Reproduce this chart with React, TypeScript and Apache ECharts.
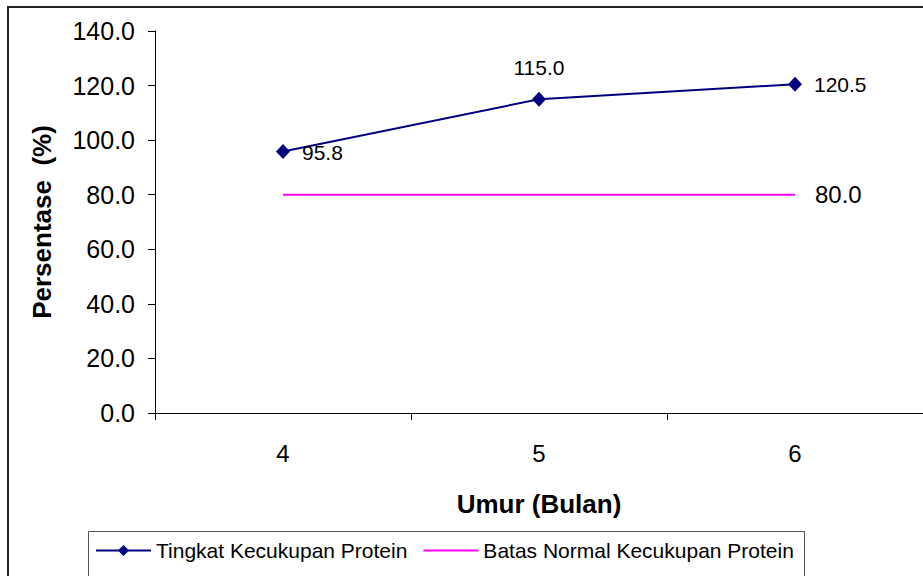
import React, { useEffect, useRef } from "react";
import * as echarts from "echarts";

const categories = ["4", "5", "6"];
const proteinValues = [95.8, 115.0, 120.5];
const normalValues = [80.0, 80.0, 80.0];
const proteinLabelPositions = ["right", "top", "right"];
const seriesNames = ["Tingkat Kecukupan Protein", "Batas Normal Kecukupan Protein"];

const FONT = "'Liberation Sans', Arial, sans-serif";

export default function App() {
  const ref = useRef<HTMLDivElement>(null);
  useEffect(() => {
    if (!ref.current) return;
    const chart = echarts.init(ref.current, null, { renderer: "svg" });
    chart.setOption({
      animation: false,
      backgroundColor: "#ffffff",
      textStyle: { fontFamily: FONT, color: "#000" },
      grid: { left: 155, top: 31, width: 771, height: 382, containLabel: false },
      graphic: [
        {
          type: "rect",
          shape: { x: 8, y: 7, width: 1000, height: 1000 },
          style: { fill: "none", stroke: "#222", lineWidth: 2 },
          z: 100,
        },
        {
          type: "rect",
          shape: { x: 88.5, y: 531.5, width: 716, height: 100 },
          style: { fill: "none", stroke: "#555", lineWidth: 1 },
          z: 100,
        },
      ],
      legend: {
        left: 95,
        top: 540,
        itemWidth: 55,
        itemHeight: 14,
        itemGap: 16,
        padding: 0,
        textStyle: { fontSize: 21, fontFamily: FONT, color: "#000", padding: [0, 0, 0, 0] },
        data: [
          { name: seriesNames[0] },
          { name: seriesNames[1], icon: "path://M0 0 H60 V2.2 H0 Z" },
        ],
      },
      xAxis: {
        type: "category",
        data: categories,
        boundaryGap: true,
        name: "Umur (Bulan)",
        nameLocation: "middle",
        nameGap: 78,
        nameTextStyle: { fontSize: 26, fontWeight: "bold", fontFamily: FONT, color: "#000" },
        axisLine: { lineStyle: { color: "#000", width: 1 } },
        axisTick: { show: true, length: 7, inside: false, lineStyle: { color: "#000" } },
        axisLabel: { fontSize: 24, color: "#000", margin: 28, fontFamily: FONT },
        splitLine: { show: false },
      },
      yAxis: {
        type: "value",
        min: 0,
        max: 140,
        interval: 20,
        name: "Persentase  (%)",
        nameLocation: "middle",
        nameGap: 100,
        nameTextStyle: { fontSize: 26, fontWeight: "bold", fontFamily: FONT, color: "#000" },
        axisLine: { show: true, lineStyle: { color: "#000", width: 1 } },
        axisTick: { show: true, length: 7, inside: false, lineStyle: { color: "#000" } },
        axisLabel: {
          fontSize: 25,
          color: "#000",
          margin: 20,
          fontFamily: FONT,
          formatter: (v: number) => v.toFixed(1),
        },
        splitLine: { show: false },
      },
      series: [
        {
          name: seriesNames[0],
          type: "line",
          data: proteinValues.map((v, i) => ({
            value: v,
            label: {
              show: true,
              position: proteinLabelPositions[i],
              distance: proteinLabelPositions[i] === "top" ? 14 : 12,
              offset: i === 0 ? [0, 1] : [0, 0],
            },
          })),
          symbol: "diamond",
          symbolSize: [14, 15],
          itemStyle: { color: "#000080" },
          lineStyle: { color: "#000080", width: 2 },
          label: {
            fontSize: 21,
            color: "#000",
            fontFamily: FONT,
            formatter: (p: any) => Number(p.value).toFixed(1),
          },
        },
        {
          name: seriesNames[1],
          type: "line",
          data: normalValues,
          symbol: "none",
          itemStyle: { color: "#FF00FF" },
          lineStyle: { color: "#FF00FF", width: 2 },
          endLabel: {
            show: true,
            distance: 20,
            fontSize: 24,
            color: "#000",
            fontFamily: FONT,
            formatter: (p: any) => Number(p.value).toFixed(1),
          },
        },
      ],
    });
    return () => chart.dispose();
  }, []);
  return (
    <div
      ref={ref}
      style={{ position: "fixed", left: 0, top: 0, width: 923, height: 576 }}
    />
  );
}
